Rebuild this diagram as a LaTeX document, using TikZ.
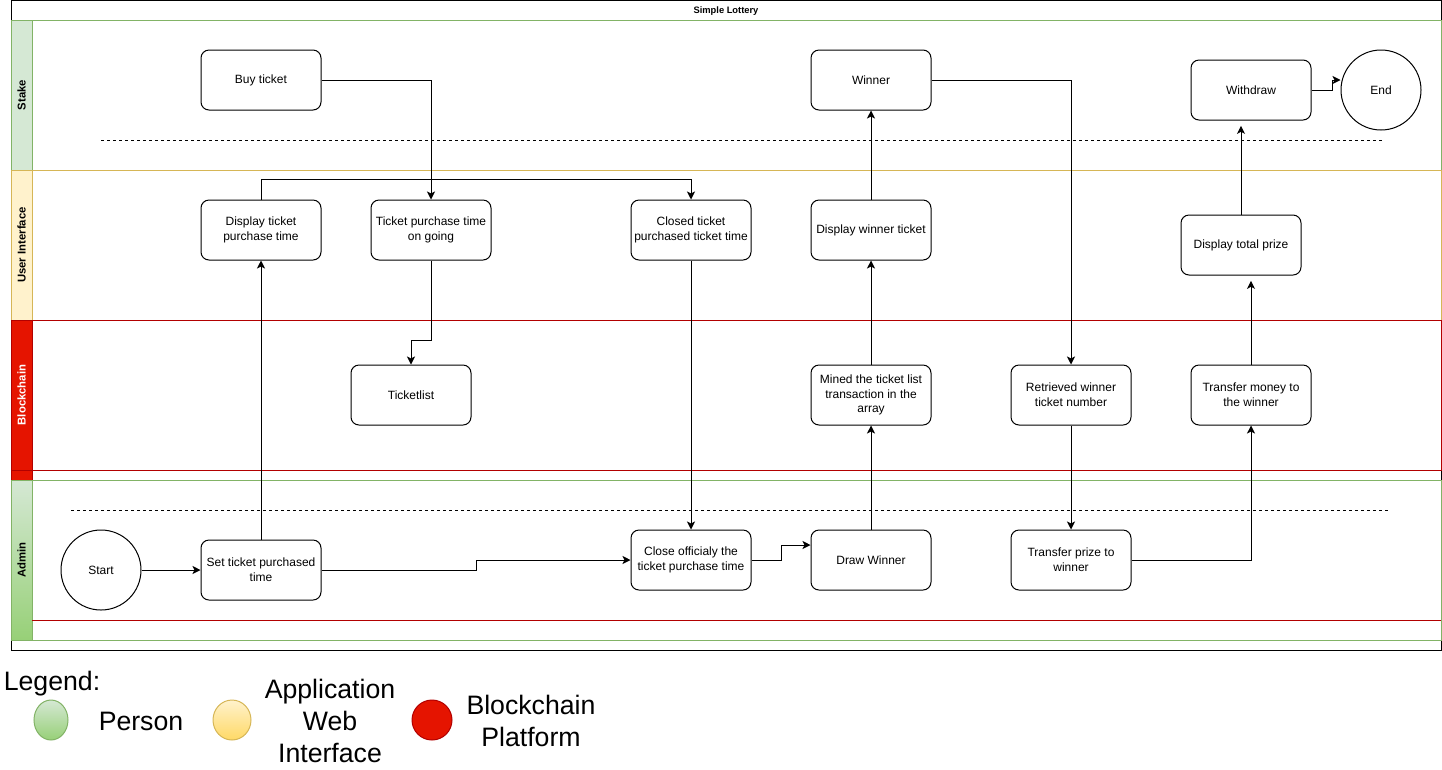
\documentclass[tikz,border=0pt]{standalone}
\usepackage{fontspec}
\setmainfont{Liberation Sans}
\usetikzlibrary{arrows.meta}
\definecolor{stakefill}{HTML}{D5E8D4}
\definecolor{stakeline}{HTML}{82B366}
\definecolor{uifill}{HTML}{FFF2CC}
\definecolor{uiline}{HTML}{D6B656}
\definecolor{uidark}{HTML}{FFD966}
\definecolor{chainfill}{HTML}{E51400}
\definecolor{chainline}{HTML}{B20000}
\definecolor{admindark}{HTML}{97D077}

\begin{document}
\begin{tikzpicture}[x=0.75pt,y=0.75pt,yscale=-1,line width=0.75pt,
  box/.style={draw, rounded corners=6pt, minimum width=90pt, minimum height=45pt, inner sep=0pt, align=center, font=\fontsize{9}{11}\selectfont},
  term/.style={draw, circle, minimum size=60pt, inner sep=0pt, font=\fontsize{9}{11}\selectfont},
  flow/.style={-{Stealth[length=6pt,width=6pt,inset=1.5pt]}},
  lanehead/.style={rotate=90, font=\fontsize{8.5}{10}\selectfont\bfseries},
  legendtext/.style={align=center, font=\fontsize{20}{24}\selectfont}]

\useasboundingbox (0,0) rectangle (1442,769);

\draw (11,0) rectangle (1441,650);
\draw (726,11) node [font=\fontsize{7}{8}\selectfont\bfseries] (title) {Simple Lottery};

\draw [stakeline, fill=stakefill] (11,20) rectangle (32,170);
\draw [stakeline] (32,20) rectangle (1441,170);
\draw [uiline, fill=uifill] (11,170) rectangle (32,320);
\draw [uiline] (32,170) rectangle (1441,320);
\draw [chainline, fill=chainfill] (11,320) rectangle (32,480);
\draw [chainline] (32,320) rectangle (1441,470);
\draw [chainline] (11,470) -- (32,470);
\draw [stakeline, top color=stakefill, bottom color=admindark] (11,480) rectangle (32,640);
\draw [stakeline] (32,480) rectangle (1441,640);
\draw [chainline] (32,620) -- (1441,620);

\draw (21.5,95) node [lanehead] (stakelane) {Stake};
\draw (21.5,245) node [lanehead] (uilane) {User Interface};
\draw (21.5,395) node [lanehead, white] (chainlane) {Blockchain};
\draw (21.5,560) node [lanehead] (adminlane) {Admin};

\draw [dash pattern=on 2.25pt off 2.25pt] (101,140) -- (1383,140);
\draw [dash pattern=on 2.25pt off 2.25pt] (71,510) -- (1389,510);

\draw (261,80) node [box] (buy) {Buy ticket};
\draw (871,80) node [box] (winner) {Winner};
\draw (1251,90) node [box] (withdraw) {Withdraw};
\draw (1381,90) node [term] (end) {End};

\draw (261,230) node [box] (showtime) {Display ticket\\purchase time};
\draw (431,230) node [box] (ongoing) {Ticket purchase time\\on going};
\draw (691,230) node [box] (closed) {Closed ticket\\purchased ticket time};
\draw (871,230) node [box] (showwinner) {Display winner ticket};
\draw (1241,245) node [box] (showprize) {Display total prize};

\draw (411,395) node [box] (ticketlist) {Ticketlist};
\draw (871,395) node [box] (mined) {Mined the ticket list\\transaction in the\\array};
\draw (1071,395) node [box] (retrieved) {Retrieved winner\\ticket number};
\draw (1251,395) node [box] (sendmoney) {Transfer money to\\the winner};

\draw (101,570) node [term] (start) {Start};
\draw (261,570) node [box] (settime) {Set ticket purchased\\time};
\draw (691,560) node [box] (closetime) {Close officialy the\\ticket purchase time};
\draw (871,560) node [box] (draw) {Draw Winner};
\draw (1071,560) node [box] (sendprize) {Transfer prize to\\winner};

\draw [flow] (buy.east) -| (ongoing.north);
\draw [flow] (showtime.north) -- ++(0,-20) -| (closed.north);
\draw [flow] (ongoing.south) -- ++(0,80) -| (ticketlist.north);
\draw [flow] (start) -- (settime);
\draw [flow] (settime.north) -- (showtime.south);
\draw [flow] (settime.east) -- ++(155,0) |- (closetime.west);
\draw [flow] (closed.south) -- (closetime.north);
\draw [flow] (closetime.east) -- ++(30,0) |- ([yshift=-11.25pt]draw.west);
\draw [flow] (draw.north) -- (mined.south);
\draw [flow] (mined.north) -- (showwinner.south);
\draw [flow] (showwinner.north) -- (winner.south);
\draw [flow] (winner.east) -| (retrieved.north);
\draw [flow] (retrieved.south) -- (sendprize.north);
\draw [flow] (sendprize.east) -| (sendmoney.south);
\draw [flow, shorten >=4pt] (sendmoney.north) -- (sendmoney.north |- showprize.south);
\draw [flow, shorten >=4pt] (showprize.north) -- (showprize.north |- withdraw.south);
\draw [flow] (withdraw.east) -- ++(21,0) |- ([yshift=-7.5pt]end.west);

\draw [stakeline, top color=stakefill, bottom color=admindark] (51,720) ellipse [x radius=17, y radius=20];
\draw [uiline, top color=uifill, bottom color=uidark] (232,720) ellipse [x radius=19, y radius=20];
\draw [chainline, fill=chainfill] (432,720) ellipse [x radius=20, y radius=20];
\draw (52,684) node [legendtext] (legend) {Legend:};
\draw (141,721) node [legendtext] (person) {Person};
\draw (330,721) node [legendtext] (webapp) {Application\\Web\\Interface};
\draw (531,721) node [legendtext] (platform) {Blockchain\\Platform};

\end{tikzpicture}
\end{document}
